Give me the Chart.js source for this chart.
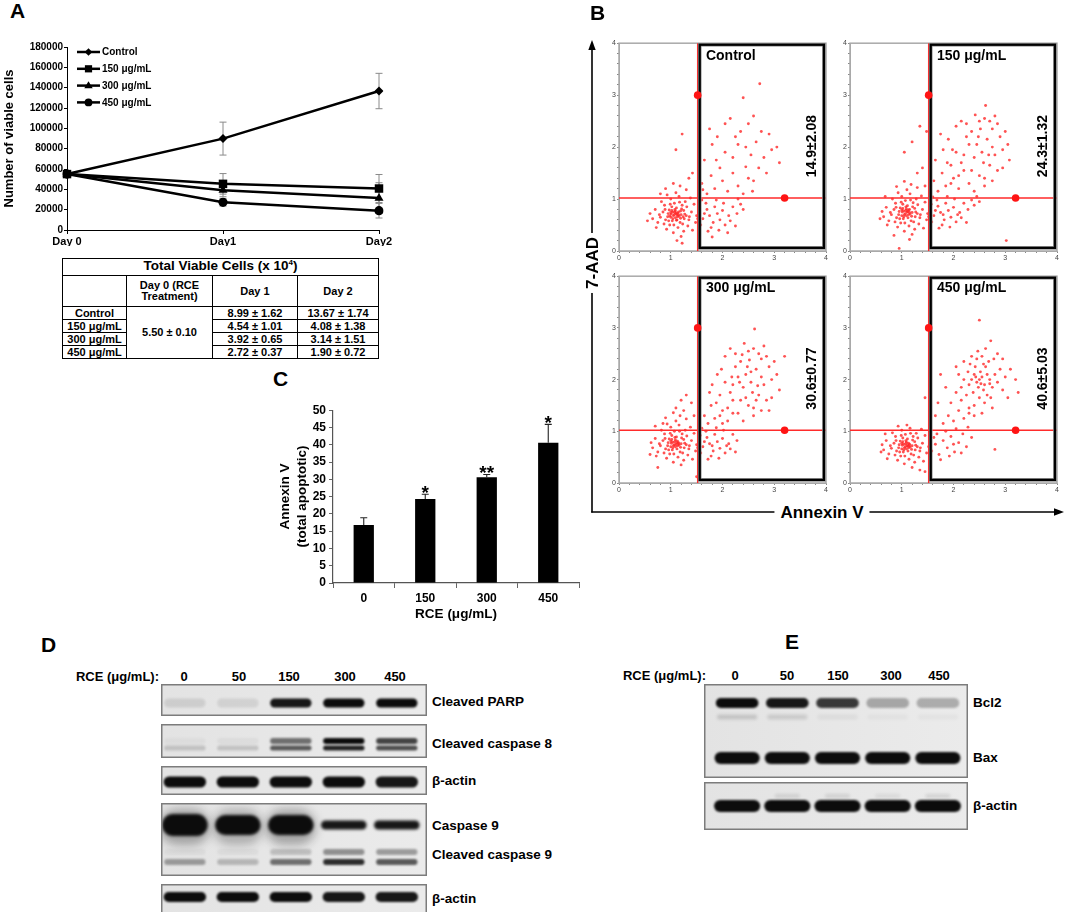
<!DOCTYPE html>
<html>
<head>
<meta charset="utf-8">
<title>RCE viability and apoptosis</title>
<script src="https://cdn.jsdelivr.net/npm/chart.js@4.4.1/dist/chart.umd.min.js"></script>
<style>
	body { margin:0; width:1065px; height:912px; position:relative; overflow:hidden; background:#fff; font-family:"Liberation Sans", Arial, sans-serif; color:#000; }
	canvas { position:absolute; }
	.txt { position:absolute; font-weight:bold; white-space:nowrap; line-height:1; }
	table.cells { position:absolute; left:62px; top:258px; width:316px; border-collapse:collapse; table-layout:fixed; font-weight:bold; font-size:11px; }
	table.cells td { border:1.5px solid #000; text-align:center; padding:0; line-height:11px; }
	table.cells td.ttl { font-size:13.5px; line-height:14px; }
	.sup { font-size:8px; position:relative; top:-5px; }
</style>
</head>
<body>
<script>
// ---------- A : viable cells (x 10^4) ----------
const days = ['Day 0', 'Day1', 'Day2'];
const groupNames = ['Control', '150 μg/mL', '300 μg/mL', '450 μg/mL'];
const day0Mean = 5.50, day0Sd = 0.10;
const day1Mean = [8.99, 4.54, 3.92, 2.72];
const day1Sd = [1.62, 1.01, 0.65, 0.37];
const day2Mean = [13.67, 4.08, 3.14, 1.90];
const day2Sd = [1.74, 1.38, 1.51, 0.72];
const cellTicks = [0, 20000, 40000, 60000, 80000, 100000, 120000, 140000, 160000, 180000];

// ---------- B : flow cytometry (Annexin V, 7-AAD) ----------
const quadCut = [1.52, 1.02];
const gateBox = [1.56, 0.06, 3.96, 3.97];
const gateHandles = [[1.52, 3.0], [3.2, 1.02]];
const apoLabels = ['14.9±2.08', '24.3±1.32', '30.6±0.77', '40.6±5.03'];

const ctrlDots = [
	1.10,0.72, 1.05,0.68, 1.15,0.75, 1.00,0.65, 1.20,0.70, 1.08,0.80, 0.95,0.72, 1.12,0.60, 1.25,0.78, 1.02,0.85,
	0.90,0.60, 1.18,0.55, 1.30,0.68, 0.98,0.50, 1.07,0.92, 1.22,0.88, 0.85,0.75, 1.35,0.60, 0.88,0.88, 1.14,0.45,
	1.28,0.95, 0.80,0.65, 1.40,0.75, 1.00,1.00, 1.16,1.05, 0.75,0.55, 1.33,0.48, 0.92,0.42, 1.45,0.90, 0.70,0.80,
	1.05,0.35, 1.25,0.38, 0.82,0.95, 1.38,1.02, 0.65,0.62, 1.48,0.55, 1.10,1.12, 0.93,1.08, 1.20,0.28, 0.72,0.45,
	1.42,0.40, 0.60,0.72, 1.03,0.58, 1.13,0.66, 1.09,0.77, 0.97,0.79, 1.19,0.63, 1.27,0.71, 1.01,0.71, 1.11,0.83,
	0.94,0.66, 1.23,0.52, 1.06,0.50, 0.87,0.52, 1.31,0.85, 0.78,0.70, 1.36,0.66, 1.17,0.94, 0.99,0.90, 1.04,0.62,
	1.15,0.70, 1.21,0.81, 0.89,0.80, 1.08,0.74, 1.12,0.70, 0.96,0.58, 1.26,0.62, 1.02,0.78, 0.55,0.58, 1.50,0.68,
	1.18,1.25, 1.05,1.30, 0.90,1.20, 1.30,1.18, 1.12,0.20, 1.22,0.15, 1.07,0.70, 1.13,0.73, 1.04,0.75, 1.16,0.67,
	1.09,0.64, 1.00,0.74, 1.19,0.77, 1.11,0.59, 0.98,0.68, 1.24,0.66,
	1.55,0.75, 1.62,0.62, 1.70,0.80, 1.58,0.50, 1.75,0.68, 1.82,0.55, 1.68,0.92, 1.90,0.72, 1.95,0.60, 1.85,0.85,
	2.00,0.78, 2.05,0.50, 1.78,0.45, 2.12,0.68, 2.20,0.85, 2.15,0.58, 2.28,0.72, 2.35,0.90, 1.60,0.98, 1.72,0.38,
	1.88,0.98, 2.25,0.48, 1.52,0.62, 1.65,0.72, 2.40,0.80, 2.02,0.92, 1.93,0.40, 2.10,0.35, 1.80,0.27, 2.30,1.00,
	1.60,1.30, 1.70,1.10, 1.78,1.45, 1.85,1.20, 1.95,1.60, 2.00,1.35, 2.10,1.15, 2.20,1.50, 2.30,1.25, 2.40,1.10,
	2.50,1.40, 2.60,1.35, 2.70,1.60, 2.80,1.80, 2.55,1.85, 2.45,2.00, 2.35,2.30, 2.25,2.20, 2.15,2.55, 2.05,2.45,
	1.90,2.20, 1.80,2.05, 1.75,2.35, 1.65,1.75, 2.65,2.10, 2.75,2.30, 2.90,2.25, 2.95,1.95, 3.05,2.00, 2.85,1.50,
	2.50,2.45, 2.30,2.05, 2.20,1.80, 2.05,1.90, 1.88,1.75, 2.60,2.60, 2.40,2.95, 2.72,3.22, 2.58,1.15, 3.10,1.70,
	1.55,1.50, 1.62,1.18, 2.45,1.62, 1.10,1.95, 1.22,2.25, 1.42,1.50, 1.35,1.40, 0.80,1.10
];
const c150Dots = [
	1.10,0.75, 1.05,0.70, 1.15,0.80, 1.00,0.68, 1.20,0.74, 1.08,0.85, 0.95,0.76, 1.12,0.64, 1.25,0.82, 1.02,0.90,
	0.90,0.64, 1.18,0.58, 1.30,0.72, 0.98,0.54, 1.07,0.97, 1.22,0.93, 0.85,0.80, 1.35,0.64, 0.88,0.92, 1.14,0.48,
	1.28,1.00, 0.80,0.70, 1.40,0.80, 1.00,1.05, 1.16,1.10, 0.75,0.58, 1.33,0.52, 0.92,0.46, 1.45,0.94, 0.70,0.84,
	1.05,0.38, 1.25,0.42, 0.82,1.00, 1.38,1.06, 0.65,0.66, 1.48,0.60, 1.10,1.18, 0.93,1.12, 1.20,0.32, 0.72,0.50,
	1.42,0.44, 0.62,0.76, 1.03,0.62, 1.13,0.70, 1.09,0.81, 0.97,0.83, 1.19,0.67, 1.27,0.75, 1.01,0.75, 1.11,0.87,
	0.94,0.70, 1.23,0.56, 1.06,0.54, 0.87,0.56, 1.31,0.89, 0.78,0.74, 1.36,0.70, 1.17,0.98, 0.99,0.94, 1.04,0.66,
	1.15,0.74, 1.21,0.85, 0.89,0.84, 1.08,0.78, 1.12,0.76, 0.96,0.62, 1.26,0.66, 1.02,0.82, 0.58,0.62, 1.50,0.72,
	1.18,1.28, 1.05,1.34, 0.90,1.24, 1.30,1.22, 0.85,0.30, 1.15,0.22, 0.68,1.05, 1.45,1.25, 1.07,0.72, 1.13,0.79,
	1.04,0.77, 1.16,0.71, 1.09,0.68, 1.00,0.79,
	1.55,0.80, 1.62,0.68, 1.70,0.86, 1.58,0.56, 1.75,0.74, 1.82,0.60, 1.68,0.98, 1.90,0.78, 1.95,0.65, 1.85,0.92,
	2.00,0.84, 2.05,0.56, 1.78,0.50, 2.12,0.74, 2.20,0.92, 2.15,0.64, 2.28,0.80, 2.35,0.98, 1.60,1.04, 1.72,0.44,
	1.88,1.05, 2.25,0.55, 1.52,0.66, 1.65,0.78, 2.40,0.88, 2.02,1.00, 1.93,0.46, 2.45,1.05, 2.50,0.95, 1.57,0.90,
	1.80,0.70, 2.08,0.70,
	1.62,1.35, 1.70,1.15, 1.78,1.50, 1.85,1.25, 1.95,1.65, 2.00,1.40, 2.10,1.20, 2.20,1.55, 2.30,1.30, 2.40,1.15,
	2.50,1.45, 2.60,1.40, 2.70,1.65, 2.80,1.85, 2.55,1.90, 2.45,2.05, 2.35,2.30, 2.25,2.20, 2.15,2.50, 2.05,2.40,
	1.90,2.15, 1.80,1.95, 1.75,2.25, 1.65,1.75, 2.65,2.15, 2.75,2.35, 2.90,2.20, 2.95,1.95, 3.05,2.05, 2.85,1.55,
	2.50,2.50, 2.30,2.05, 2.20,1.85, 2.05,1.90, 1.88,1.70, 2.60,2.55, 2.62,2.80, 2.70,2.50, 2.48,2.20, 2.40,1.80,
	2.58,1.70, 2.75,2.00, 2.85,2.45, 3.00,2.30, 2.35,1.55, 2.15,1.70, 1.98,1.95, 2.52,2.35, 2.68,1.85, 2.42,2.62,
	2.25,2.45, 2.95,1.60, 3.08,1.75, 2.80,2.60, 1.95,1.30, 2.10,1.45, 2.60,1.25, 2.75,1.35,
	1.05,1.90, 1.20,2.10, 1.35,2.40, 1.48,2.30, 0.95,0.05, 3.02,0.20, 1.40,1.60, 1.30,1.50
];
const c300Dots = [
	1.10,0.75, 1.05,0.72, 1.15,0.78, 1.00,0.70, 1.20,0.76, 1.08,0.88, 0.95,0.78, 1.12,0.66, 1.25,0.84, 1.02,0.92,
	0.90,0.66, 1.18,0.60, 1.30,0.74, 0.98,0.56, 1.07,1.00, 1.22,0.95, 0.85,0.82, 1.35,0.66, 0.88,0.95, 1.14,0.50,
	1.28,1.02, 0.80,0.72, 1.40,0.82, 1.00,1.08, 1.16,1.12, 0.75,0.60, 1.33,0.54, 0.92,0.48, 1.45,0.96, 0.70,0.86,
	1.05,0.40, 1.25,0.44, 0.82,1.02, 1.38,1.08, 0.65,0.68, 1.48,0.62, 1.10,1.20, 0.93,1.14, 1.20,0.35, 0.72,0.52,
	1.42,0.46, 0.62,0.78, 1.03,0.64, 1.13,0.72, 1.09,0.83, 0.97,0.85, 1.19,0.69, 1.27,0.77, 1.01,0.77, 1.11,0.89,
	0.94,0.72, 1.23,0.58, 1.06,0.56, 0.87,0.58, 1.31,0.91, 0.78,0.76, 1.36,0.72, 1.17,1.00, 0.99,0.96, 1.04,0.68,
	1.15,0.76, 1.21,0.87, 0.89,0.86, 1.08,0.80, 1.12,0.78, 0.96,0.64, 1.26,0.68, 1.02,0.84, 0.60,0.55, 1.50,0.74,
	1.18,1.30, 1.05,1.36, 0.90,1.26, 1.30,1.24, 0.75,0.30, 1.50,0.12, 0.70,1.10, 1.45,1.30, 1.07,0.74, 1.13,0.81,
	1.04,0.79, 1.16,0.73, 1.09,0.70, 1.00,0.81, 0.85,1.15, 1.25,1.40,
	1.55,0.82, 1.62,0.70, 1.70,0.88, 1.58,0.58, 1.75,0.76, 1.82,0.62, 1.68,1.00, 1.90,0.80, 1.95,0.67, 1.85,0.94,
	2.00,0.86, 2.05,0.58, 1.78,0.52, 2.12,0.76, 2.20,0.94, 2.15,0.66, 2.28,0.82, 1.60,1.06, 1.72,0.46, 1.88,1.07,
	2.25,0.60, 1.52,0.68, 1.65,0.80, 2.02,1.02, 1.93,0.48, 1.57,0.92, 1.80,0.72, 2.08,0.72,
	1.65,1.30, 1.72,1.15, 1.78,1.50, 1.85,1.25, 1.95,1.70, 2.00,1.40, 2.10,1.20, 2.20,1.60, 2.30,1.35, 2.40,1.20,
	2.50,1.50, 2.60,1.45, 2.70,1.70, 2.80,1.90, 2.55,1.95, 2.45,2.10, 2.35,2.35, 2.25,2.25, 2.15,2.60, 2.05,2.45,
	1.90,2.10, 1.80,1.90, 1.75,1.75, 2.65,2.20, 2.75,2.40, 2.90,2.25, 2.95,2.00, 3.05,2.10, 2.85,1.60, 2.50,2.55,
	2.30,2.05, 2.20,1.90, 2.05,1.95, 1.88,1.55, 2.60,2.60, 2.62,2.98, 2.70,2.50, 2.48,2.25, 2.40,1.85, 2.58,1.75,
	2.75,2.05, 2.85,2.45, 3.00,2.35, 2.35,1.60, 2.15,1.75, 1.98,2.20, 2.52,2.38, 2.68,1.88, 2.42,2.70, 2.25,2.50,
	2.95,1.65, 3.10,1.80, 2.80,2.65, 1.95,1.30, 2.10,1.45, 2.60,1.30, 2.75,1.40, 2.45,1.65, 2.33,1.95, 2.55,2.15,
	2.65,1.60, 2.38,2.48, 2.18,2.05, 3.20,2.45, 2.90,1.40, 2.20,1.35, 2.00,1.15,
	1.30,1.70, 1.20,1.60, 1.40,1.55, 1.10,1.45
];
const c450Dots = [
	1.10,0.72, 1.05,0.68, 1.15,0.75, 1.00,0.66, 1.20,0.72, 1.08,0.82, 0.95,0.74, 1.12,0.62, 1.25,0.80, 1.02,0.87,
	0.90,0.62, 1.18,0.56, 1.30,0.70, 0.98,0.52, 1.07,0.94, 1.22,0.90, 0.85,0.77, 1.35,0.62, 0.88,0.90, 1.14,0.46,
	1.28,0.96, 0.80,0.67, 1.40,0.77, 1.00,1.02, 1.16,1.06, 0.75,0.56, 1.33,0.50, 0.92,0.44, 1.45,0.92, 0.70,0.82,
	1.05,0.37, 1.25,0.40, 0.82,0.97, 1.38,1.04, 0.65,0.64, 1.48,0.58, 1.10,1.12, 0.93,1.10, 1.20,0.30, 0.72,0.47,
	1.42,0.42, 0.62,0.74, 1.03,0.60, 1.13,0.68, 1.09,0.79, 0.97,0.81, 1.19,0.65, 1.27,0.73, 1.01,0.73, 1.11,0.85,
	0.94,0.68, 1.23,0.54, 1.06,0.52, 0.87,0.54, 1.31,0.87, 0.78,0.72, 1.36,0.68, 1.17,0.96, 0.99,0.92, 1.04,0.64,
	1.15,0.72, 1.21,0.83, 0.89,0.82, 1.08,0.76, 1.12,0.72, 0.96,0.60, 1.26,0.64, 1.02,0.80, 0.60,0.60, 1.52,0.70,
	1.55,0.85, 1.35,0.25, 1.45,0.22, 0.68,0.95, 1.07,0.70, 1.13,0.77, 1.04,0.75, 1.16,0.69, 1.09,0.66, 1.00,0.77,
	1.58,0.62, 1.65,0.75, 1.72,0.55, 1.80,0.82, 1.88,0.68, 1.95,0.90, 2.02,0.60, 2.10,0.78, 2.18,0.95, 2.25,0.70,
	1.68,0.95, 1.75,0.45, 1.85,1.00, 1.92,0.52, 2.05,1.05, 2.15,0.58, 2.28,1.08, 1.62,0.88, 2.00,0.75, 2.35,0.88,
	2.80,0.65,
	1.80,1.15, 1.90,1.30, 2.00,1.20, 2.10,1.40, 2.20,1.25, 1.95,1.55, 2.15,1.60, 2.30,1.45, 1.70,1.55, 2.05,1.75,
	1.85,1.85,
	2.50,2.00, 2.45,1.95, 2.55,2.05, 2.40,2.10, 2.60,1.90, 2.48,1.85, 2.52,2.15, 2.35,2.00, 2.65,2.10, 2.58,1.80,
	2.42,2.25, 2.70,2.00, 2.30,1.90, 2.62,2.25, 2.38,1.75, 2.75,1.85, 2.28,2.15, 2.68,2.35, 2.45,2.40, 2.80,2.10,
	2.20,2.00, 2.55,2.45, 2.85,1.95, 2.25,1.70, 2.72,1.65, 2.35,2.45, 2.90,2.20, 2.15,1.85, 2.60,1.55, 2.40,1.50,
	2.78,2.40, 2.95,1.80, 2.50,1.65, 2.32,2.30, 2.65,1.70, 2.10,2.10, 3.00,2.05, 2.85,2.50, 2.20,2.35, 2.47,2.55,
	3.05,1.65, 2.75,1.45, 2.55,1.35, 2.30,1.35, 2.95,2.40, 3.10,2.20, 2.62,2.60, 2.05,2.25, 2.40,1.30, 2.58,2.30,
	2.70,1.92, 2.43,2.05, 2.53,1.92,
	2.50,3.15, 2.72,2.75, 1.45,1.65, 1.55,2.10, 1.75,2.10, 3.20,2.00, 3.25,1.75, 1.65,1.30
];

// ---------- C : Annexin V bar chart ----------
const doseLabels = ['0', '150', '300', '450'];
const apoptotic = [16.8, 24.3, 30.6, 40.6];
const apoptoticErr = [2.1, 1.4, 0.8, 5.3];
const signif = ['', '*', '**', '*'];

// ---------- D / E : western blot band intensities (lanes 0, 50, 150, 300, 450) ----------
const laneDoses = ['0', '50', '150', '300', '450'];
const parpBand = [0.10, 0.09, 0.95, 1.00, 1.00];
const casp8Upper = [0.03, 0.04, 0.55, 1.00, 0.75];
const casp8Lower = [0.16, 0.16, 0.65, 0.90, 0.70];
const actinD1 = [1.00, 1.00, 1.00, 1.00, 0.95];
const casp9Band = [1.00, 1.00, 1.00, 0.95, 0.95];
const casp9Smear = [0.30, 0.25, 0.30, 0.00, 0.00];
const cc9Upper = [0.04, 0.04, 0.18, 0.40, 0.35];
const cc9Lower = [0.35, 0.22, 0.55, 0.85, 0.65];
const actinD2 = [1.00, 1.00, 1.00, 0.95, 0.95];
const bcl2Band = [1.00, 0.95, 0.80, 0.30, 0.28];
const bcl2Minor = [0.15, 0.12, 0.05, 0.03, 0.03];
const baxBand = [1.00, 1.00, 1.00, 1.00, 1.00];
const actinE = [1.00, 1.00, 1.00, 1.00, 1.00];
const actinEFaint = [0.00, 0.10, 0.10, 0.07, 0.10];


var FONT = "'Liberation Sans', Arial, Helvetica, sans-serif";
Chart.defaults.font.family = FONT;
Chart.defaults.color = '#000';

function addCanvas(left, top, w, h) {
	var cv = document.createElement('canvas');
	cv.width = w; cv.height = h;
	cv.style.left = left + 'px'; cv.style.top = top + 'px';
	cv.style.width = w + 'px'; cv.style.height = h + 'px';
	document.body.appendChild(cv);
	return cv;
}

// y = visual middle of the text
function label(txt, x, y, size, align) {
	var d = document.createElement('div');
	d.className = 'txt';
	d.style.fontSize = size + 'px';
	d.style.top = (y - size * 0.5) + 'px';
	if (align === 'center') { d.style.left = x + 'px'; d.style.transform = 'translateX(-50%)'; }
	else if (align === 'right') { d.style.right = (1065 - x) + 'px'; }
	else { d.style.left = x + 'px'; }
	d.innerHTML = txt;
	document.body.appendChild(d);
	return d;
}

function drawMarker(ctx, style, x, y, r) {
	ctx.beginPath();
	if (style === 'rectRot') {
		ctx.moveTo(x, y - r); ctx.lineTo(x + r, y); ctx.lineTo(x, y + r); ctx.lineTo(x - r, y);
	} else if (style === 'rect') {
		var s = r * Math.SQRT1_2;
		ctx.rect(x - s, y - s, 2 * s, 2 * s);
	} else if (style === 'triangle') {
		ctx.moveTo(x, y - r); ctx.lineTo(x + r * 0.95, y + r * 0.6); ctx.lineTo(x - r * 0.95, y + r * 0.6);
	} else {
		ctx.arc(x, y, r, 0, Math.PI * 2);
	}
	ctx.closePath();
	ctx.fill();
}

// arrows of the flow panel
var svgNS = 'http://www.w3.org/2000/svg';
var svg = document.createElementNS(svgNS, 'svg');
svg.setAttribute('width', 1065); svg.setAttribute('height', 912);
svg.style.position = 'absolute'; svg.style.left = '0'; svg.style.top = '0';
svg.innerHTML =
	'<line x1="592" y1="512.5" x2="592" y2="48" stroke="#000" stroke-width="1.6"/>' +
	'<polygon points="592,40 588.3,50 595.7,50" fill="#000"/>' +
	'<line x1="591.2" y1="512" x2="1056" y2="512" stroke="#000" stroke-width="1.6"/>' +
	'<polygon points="1064,512 1054,508.3 1054,515.7" fill="#000"/>';
document.body.appendChild(svg);


// ================= A =================
var markerStyles = ['rectRot', 'rect', 'triangle', 'circle'];
var markerSizes = [4.5, 6, 5.2, 4.6];

var errorBarsA = {
	id: 'errorBarsA',
	beforeDatasetsDraw: function(chart) {
		var ctx = chart.ctx, y = chart.scales.y;
		ctx.save();
		ctx.strokeStyle = '#8a8a8a';
		ctx.lineWidth = 1;
		chart.data.datasets.forEach(function(ds, i) {
			var meta = chart.getDatasetMeta(i);
			ds.errors.forEach(function(e, j) {
				var px = meta.data[j].x;
				var t = y.getPixelForValue(ds.data[j] + e), b = y.getPixelForValue(ds.data[j] - e);
				ctx.beginPath();
				ctx.moveTo(px, t); ctx.lineTo(px, b);
				ctx.moveTo(px - 3.5, t); ctx.lineTo(px + 3.5, t);
				ctx.moveTo(px - 3.5, b); ctx.lineTo(px + 3.5, b);
				ctx.stroke();
			});
		});
		ctx.restore();
	},
	afterDraw: function(chart) {
		// legend inside the plot, line + marker like the original
		var ctx = chart.ctx, a = chart.chartArea;
		ctx.save();
		ctx.font = 'bold 10px ' + FONT;
		ctx.textBaseline = 'middle';
		chart.data.datasets.forEach(function(ds, i) {
			var ly = a.top + 5 + i * 16.8;
			var lx = a.left + 10;
			ctx.strokeStyle = '#000'; ctx.fillStyle = '#000'; ctx.lineWidth = 2.5;
			ctx.beginPath(); ctx.moveTo(lx, ly); ctx.lineTo(lx + 23, ly); ctx.stroke();
			drawMarker(ctx, markerStyles[i], lx + 11.5, ly, markerSizes[i] * 0.85);
			ctx.fillText(ds.label, lx + 25, ly + 0.5);
		});
		ctx.restore();
	}
};

var seriesA = groupNames.map(function(g, i) {
	return {
		label: g,
		data: [day0Mean, day1Mean[i], day2Mean[i]].map(function(v) { return v * 10000; }),
		errors: [day0Sd, day1Sd[i], day2Sd[i]].map(function(v) { return v * 10000; }),
		borderColor: '#000',
		backgroundColor: '#000',
		borderWidth: 2.5,
		pointStyle: markerStyles[i],
		pointRadius: markerSizes[i],
		pointBorderWidth: 0,
		pointBackgroundColor: '#000',
		tension: 0
	};
});

new Chart(addCanvas(0, 40, 397, 206), {
	type: 'line',
	data: { labels: days, datasets: seriesA },
	options: {
		responsive: false, animation: false, events: [],
		layout: { padding: { top: 6, right: 18 } },
		plugins: { legend: { display: false }, tooltip: { enabled: false } },
		scales: {
			x: {
				offset: false,
				afterFit: function(s) { s.height = 16; },
				ticks: { color: '#000', font: { size: 11, weight: 'bold' }, padding: 1, maxRotation: 0, autoSkip: false },
				grid: { drawOnChartArea: false, tickLength: 4, color: '#000' },
				border: { color: '#000', width: 1 }
			},
			y: {
				min: 0, max: 180000,
				afterFit: function(s) { s.width = 67; },
				afterBuildTicks: function(s) { s.ticks = cellTicks.map(function(v) { return { value: v }; }); },
				ticks: { color: '#000', font: { size: 10, weight: 'bold' }, padding: 1, autoSkip: false, callback: function(v) { return String(v); } },
				grid: { drawOnChartArea: false, tickLength: 3, color: '#000' },
				border: { color: '#000', width: 1 },
				title: { display: true, text: 'Number of viable cells', color: '#000', font: { size: 13, weight: 'bold' }, padding: { top: 2, bottom: 0 } }
			}
		}
	},
	plugins: [errorBarsA]
});

// table under the line chart
(function buildTable() {
	function fmt(v) { return v.toFixed(2); }
	var html = '<colgroup><col style="width:64px"><col style="width:86px"><col style="width:85px"><col style="width:81px"></colgroup>';
	html += '<tr style="height:16px"><td colspan="4" class="ttl">Total Viable Cells (x 10<span class="sup">4</span>)</td></tr>';
	html += '<tr style="height:31px"><td></td><td>Day 0 (RCE<br>Treatment)</td><td>Day 1</td><td>Day 2</td></tr>';
	for (var i = 0; i < groupNames.length; i++) {
		html += '<tr style="height:13px"><td>' + groupNames[i] + '</td>';
		if (i === 0) html += '<td rowspan="' + groupNames.length + '">' + fmt(day0Mean) + ' ± ' + fmt(day0Sd) + '</td>';
		html += '<td>' + fmt(day1Mean[i]) + ' ± ' + fmt(day1Sd[i]) + '</td>';
		html += '<td>' + fmt(day2Mean[i]) + ' ± ' + fmt(day2Sd[i]) + '</td></tr>';
	}
	var t = document.createElement('table');
	t.className = 'cells';
	t.innerHTML = html;
	document.body.appendChild(t);
})();


// ================= B =================
function intOnly(v) {
	var r = Math.round(v);
	return Math.abs(v - r) < 1e-6 ? String(r) : '';
}

var flowGate = {
	id: 'flowGate',
	afterDatasetsDraw: function(chart, args, opts) {
		var ctx = chart.ctx, a = chart.chartArea, x = chart.scales.x, y = chart.scales.y;
		ctx.save();
		ctx.strokeStyle = '#a9a9a9'; ctx.lineWidth = 1.5;
		ctx.strokeRect(a.left, a.top, a.right - a.left, a.bottom - a.top);

		var gx = x.getPixelForValue(quadCut[0]), gy = y.getPixelForValue(quadCut[1]);
		ctx.strokeStyle = '#ff2b2b'; ctx.lineWidth = 1.4;
		ctx.beginPath();
		ctx.moveTo(gx, a.top); ctx.lineTo(gx, a.bottom);
		ctx.moveTo(a.left, gy); ctx.lineTo(a.right, gy);
		ctx.stroke();

		var bx0 = x.getPixelForValue(gateBox[0]), by0 = y.getPixelForValue(gateBox[1]);
		var bx1 = x.getPixelForValue(gateBox[2]), by1 = y.getPixelForValue(gateBox[3]);
		ctx.strokeStyle = '#8c8c8c'; ctx.lineWidth = 3.6;
		ctx.strokeRect(bx0, by1, bx1 - bx0, by0 - by1);
		ctx.strokeStyle = '#000'; ctx.lineWidth = 2.2;
		ctx.strokeRect(bx0, by1, bx1 - bx0, by0 - by1);

		ctx.fillStyle = '#ff1414';
		gateHandles.forEach(function(h) {
			ctx.beginPath();
			ctx.arc(x.getPixelForValue(h[0]), y.getPixelForValue(h[1]), 3.8, 0, Math.PI * 2);
			ctx.fill();
		});

		ctx.fillStyle = '#000';
		ctx.font = 'bold 14px ' + FONT;
		ctx.textAlign = 'left'; ctx.textBaseline = 'middle';
		ctx.fillText(opts.tag, x.getPixelForValue(1.68), y.getPixelForValue(3.76));
		ctx.translate(x.getPixelForValue(3.74), y.getPixelForValue(2.02));
		ctx.rotate(-Math.PI / 2);
		ctx.textAlign = 'center';
		ctx.fillText(opts.pct, 0, 0);
		ctx.restore();
	}
};

function flowPlot(left, top, h, dots, tag, pct) {
	var pts = [];
	for (var i = 0; i < dots.length; i += 2) pts.push({ x: dots[i], y: dots[i + 1] });
	var axisBase = {
		type: 'linear', min: 0, max: 4,
		ticks: { stepSize: 0.2, autoSkip: false, maxRotation: 0, padding: 1, color: '#444', font: { size: 7 }, callback: intOnly },
		grid: { drawOnChartArea: false, tickLength: 2, color: '#888' },
		border: { color: '#a9a9a9' }
	};
	return new Chart(addCanvas(left, top, 231, h), {
		type: 'scatter',
		data: { datasets: [{ data: pts, pointRadius: 1.45, pointBorderWidth: 0, pointBackgroundColor: 'rgba(255,35,35,0.78)' }] },
		options: {
			responsive: false, animation: false, events: [],
			layout: { padding: { top: 5, right: 5 } },
			plugins: { legend: { display: false }, tooltip: { enabled: false }, flowGate: { tag: tag, pct: pct } },
			scales: {
				x: Object.assign({}, axisBase, { afterFit: function(s) { s.height = 11; } }),
				y: Object.assign({}, axisBase, { afterFit: function(s) { s.width = 19; } })
			}
		},
		plugins: [flowGate]
	});
}

flowPlot(600, 38, 224, ctrlDots, groupNames[0], apoLabels[0]);
flowPlot(831, 38, 224, c150Dots, groupNames[1], apoLabels[1]);
flowPlot(600, 271, 223, c300Dots, groupNames[2], apoLabels[2]);
flowPlot(831, 271, 223, c450Dots, groupNames[3], apoLabels[3]);

var aad = label('7-AAD', 592, 263, 17, 'left');
aad.style.left = '592px';
aad.style.top = '263px';
aad.style.background = '#fff';
aad.style.padding = '0 4px';
aad.style.transform = 'translate(-50%,-50%) rotate(-90deg)';
var anx = label('Annexin V', 822, 512, 17, 'center');
anx.style.background = '#fff';
anx.style.padding = '0 6px';


// ================= C =================
var barErrors = {
	id: 'barErrors',
	afterDatasetsDraw: function(chart) {
		var ctx = chart.ctx, y = chart.scales.y, meta = chart.getDatasetMeta(0);
		ctx.save();
		ctx.strokeStyle = '#222'; ctx.lineWidth = 1.1;
		ctx.fillStyle = '#000';
		ctx.font = 'bold 19px ' + FONT;
		ctx.textAlign = 'center'; ctx.textBaseline = 'alphabetic';
		apoptotic.forEach(function(v, i) {
			var px = meta.data[i].x;
			var top = y.getPixelForValue(v + apoptoticErr[i]);
			ctx.beginPath();
			ctx.moveTo(px, y.getPixelForValue(v)); ctx.lineTo(px, top);
			ctx.moveTo(px - 3.5, top); ctx.lineTo(px + 3.5, top);
			ctx.stroke();
			if (signif[i]) ctx.fillText(signif[i], px, top + 5);
		});
		ctx.restore();
	}
};

new Chart(addCanvas(268, 400, 319, 224), {
	type: 'bar',
	data: { labels: doseLabels, datasets: [{ data: apoptotic, backgroundColor: '#000', barPercentage: 0.33, categoryPercentage: 1 }] },
	options: {
		responsive: false, animation: false, events: [],
		layout: { padding: { top: 8, right: 8 } },
		plugins: { legend: { display: false }, tooltip: { enabled: false } },
		scales: {
			x: {
				afterFit: function(s) { s.height = 41; },
				ticks: { color: '#000', font: { size: 12, weight: 'bold' }, padding: 3 },
				grid: { offset: true, drawOnChartArea: false, tickLength: 5, color: '#666' },
				border: { color: '#555', width: 1.2 },
				title: { display: true, text: 'RCE (μg/mL)', color: '#000', font: { size: 13.5, weight: 'bold' }, padding: { top: 0, bottom: 2 } }
			},
			y: {
				min: 0, max: 50,
				afterFit: function(s) { s.width = 65; },
				ticks: { stepSize: 5, autoSkip: false, color: '#000', font: { size: 12, weight: 'bold' }, padding: 3 },
				grid: { drawOnChartArea: false, tickLength: 4, color: '#666' },
				border: { color: '#555', width: 1.2 },
				title: { display: true, text: ['Annexin V', '(total apoptotic)'], color: '#000', font: { size: 13.5, weight: 'bold' }, padding: { top: 9.6, bottom: 0 } }
			}
		}
	},
	plugins: [barErrors]
});


// ================= D / E blots =================
function pill(ctx, x, y, w, h) {
	var r = Math.min(h / 2, w / 2);
	ctx.beginPath();
	ctx.moveTo(x + r, y);
	ctx.lineTo(x + w - r, y);
	ctx.arc(x + w - r, y + r, r, -Math.PI / 2, Math.PI / 2);
	ctx.lineTo(x + r, y + h);
	ctx.arc(x + r, y + r, r, Math.PI / 2, Math.PI * 1.5);
	ctx.closePath();
}

var blotBands = {
	id: 'blotBands',
	beforeDraw: function(chart, args, opts) {
		var ctx = chart.ctx, a = chart.chartArea, x = chart.scales.x, y = chart.scales.y;
		ctx.save();
		var g = ctx.createLinearGradient(a.left, 0, a.right, 0);
		g.addColorStop(0, '#e3e3e3'); g.addColorStop(1, '#ebebeb');
		ctx.fillStyle = g;
		ctx.fillRect(a.left, a.top, a.right - a.left, a.bottom - a.top);
		opts.bands.forEach(function(b) {
			b.vals.forEach(function(v, lane) {
				if (v <= 0) return;
				var cx = x.getPixelForValue(lane);
				var bw = x.getPixelForValue(lane + b.w / 2) - x.getPixelForValue(lane - b.w / 2);
				var bh = Array.isArray(b.h) ? b.h[lane] : b.h;
				var cy = y.getPixelForValue(b.y);
				ctx.filter = 'blur(' + (b.blur || 1.3) + 'px)';
				ctx.fillStyle = 'rgba(12,12,12,' + v + ')';
				pill(ctx, cx - bw / 2, cy - bh / 2, bw, bh);
				ctx.fill();
			});
		});
		ctx.filter = 'none';
		ctx.strokeStyle = '#7c7c7c'; ctx.lineWidth = 1.5;
		ctx.strokeRect(a.left + 0.75, a.top + 0.75, a.right - a.left - 1.5, a.bottom - a.top - 1.5);
		ctx.restore();
	}
};

function blotStrip(left, top, w, h, xr, bands) {
	return new Chart(addCanvas(left, top, w, h), {
		type: 'scatter',
		data: { datasets: [] },
		options: {
			responsive: false, animation: false, events: [],
			layout: { padding: 0 },
			plugins: { legend: { display: false }, tooltip: { enabled: false }, blotBands: { bands: bands } },
			scales: {
				x: { type: 'linear', display: false, min: xr[0], max: xr[1] },
				y: { type: 'linear', display: false, min: 0, max: h, reverse: true }
			}
		},
		plugins: [blotBands]
	});
}

// panel D
var dRange = [-0.45, 4.57];
blotStrip(161, 684, 266, 32, dRange, [{ vals: parpBand, y: 19, h: 9, w: 0.78 }]);
blotStrip(161, 724, 266, 34, dRange, [
	{ vals: casp8Upper, y: 17, h: 6, w: 0.78 },
	{ vals: casp8Lower, y: 24, h: 5, w: 0.78 }
]);
blotStrip(161, 766, 266, 29, dRange, [{ vals: actinD1, y: 16, h: 11, w: 0.8 }]);
blotStrip(161, 803, 266, 73, dRange, [
	{ vals: casp9Smear, y: 24, h: 36, w: 0.95, blur: 5 },
	{ vals: casp9Band, y: 22, h: [22, 20, 20, 9, 9], w: 0.86, blur: 1.8 },
	{ vals: cc9Upper, y: 49, h: 6, w: 0.78 },
	{ vals: cc9Lower, y: 59, h: 6, w: 0.78 }
]);
blotStrip(161, 884, 266, 30, dRange, [{ vals: actinD2, y: 13, h: 10, w: 0.8 }]);

// panel E
var eRange = [-0.66, 4.6];
blotStrip(704, 684, 264, 94, eRange, [
	{ vals: bcl2Band, y: 19, h: 10, w: 0.85 },
	{ vals: bcl2Minor, y: 33, h: 5, w: 0.8, blur: 1.6 },
	{ vals: baxBand, y: 74, h: 12, w: 0.9 }
]);
blotStrip(704, 782, 264, 48, eRange, [
	{ vals: actinEFaint, y: 14, h: 4, w: 0.5, blur: 1.8 },
	{ vals: actinE, y: 24, h: 12, w: 0.92 }
]);

// lane headers and band names
label('RCE (μg/mL):', 159, 676, 13, 'right');
[184, 239, 289, 345, 395].forEach(function(px, i) { label(laneDoses[i], px, 676, 13, 'center'); });
label('Cleaved PARP', 432, 702, 13.5);
label('Cleaved caspase 8', 432, 744, 13.5);
label('β-actin', 432, 781, 13.5);
label('Caspase 9', 432, 826, 13.5);
label('Cleaved caspase 9', 432, 855, 13.5);
label('β-actin', 432, 899, 13.5);

label('RCE (μg/mL):', 706, 675, 13, 'right');
[735, 787, 838, 891, 939].forEach(function(px, i) { label(laneDoses[i], px, 675, 13, 'center'); });
label('Bcl2', 973, 703, 13.5);
label('Bax', 973, 758, 13.5);
label('β-actin', 973, 806, 13.5);

// panel letters
label('A', 10, 10, 21);
label('B', 590, 12, 21);
label('C', 273, 378, 21);
label('D', 41, 644, 21);
label('E', 785, 641, 21);
</script>
</body>
</html>
